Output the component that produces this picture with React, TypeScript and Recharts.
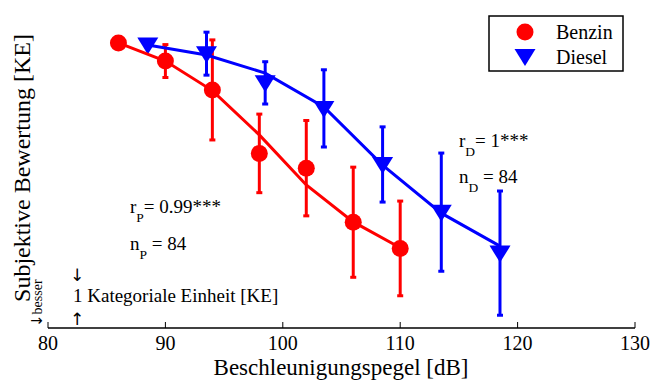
import React from 'react';
import { ComposedChart, Scatter, XAxis, YAxis, ErrorBar } from 'recharts';

const benzinX = [86, 90, 94, 98, 102, 106, 110];
const benzinMean = [7.99, 7.45, 6.59, 4.7, 4.26, 2.65, 1.87];
const benzinErr = [0, 0.49, 1.49, 1.17, 1.42, 1.64, 1.41];
const benzinLine = [7.99, 7.45, 6.57, 5.25, 3.76, 2.66, 1.89];

const dieselX = [88.5, 93.5, 98.5, 103.5, 108.5, 113.5, 118.5];
const dieselMean = [7.93, 7.67, 6.8, 6.04, 4.37, 2.95, 1.73];
const dieselErr = [0, 0.64, 0.63, 1.15, 1.12, 1.76, 1.85];
const dieselLine = [7.93, 7.63, 7.09, 6.08, 4.35, 2.92, 1.94];

const xTicks = [80, 90, 100, 110, 120, 130];
const yTicks = [0, 1, 2, 3, 4, 5, 6, 7, 8];

const RED = '#ff0000';
const BLUE = '#0000ff';
const FONT = "'Liberation Serif', Tinos, 'Times New Roman', Times, 'DejaVu Serif', serif";
const ARROW_FONT = "'DejaVu Sans', sans-serif";

const benzinPts = benzinX.map((x, i) => ({ x, y: benzinMean[i], err: benzinErr[i] }));
const benzinLn = benzinX.map((x, i) => ({ x, y: benzinLine[i] }));
const dieselPts = dieselX.map((x, i) => ({ x, y: dieselMean[i], err: dieselErr[i] }));
const dieselLn = dieselX.map((x, i) => ({ x, y: dieselLine[i] }));

const Circle = (p: any) => <circle cx={p.cx} cy={p.cy} r={8.5} fill={RED} />;
const Tri = (p: any) => {
  const { cx, cy } = p;
  const w = 10.5;
  return <polygon points={`${cx - w},${cy - 7.5} ${cx + w},${cy - 7.5} ${cx},${cy + 9.5}`} fill={BLUE} />;
};
const Empty = () => <g />;

const axisLine = { stroke: '#000', strokeWidth: 1.5 };
const tickLine = { stroke: '#000', strokeWidth: 1 };
const txt = { fontFamily: FONT, fill: '#000' } as React.CSSProperties;
const arr = { fontFamily: ARROW_FONT, fill: '#000' } as React.CSSProperties;

export default function App() {
  return (
    <div style={{ position: 'absolute', left: 0, top: 0, width: 653, height: 382, background: '#fff', fontFamily: FONT }}>
      <ComposedChart width={653} height={382} margin={{ top: 9, left: 48, right: 18, bottom: 24 }} style={{ fontFamily: FONT }}>
        <XAxis xAxisId="b" type="number" dataKey="x" domain={[80, 130]} ticks={xTicks} allowDataOverflow
          orientation="bottom" height={30} tickSize={-6} tickMargin={14} axisLine={axisLine} tickLine={tickLine}
          tick={{ fontSize: 20, fill: '#000', style: txt }} />
        <XAxis xAxisId="t" type="number" dataKey="x" domain={[80, 130]} ticks={xTicks} allowDataOverflow
          orientation="top" height={0} tickSize={-6} tick={false} axisLine={axisLine} tickLine={tickLine} />
        <YAxis yAxisId="l" type="number" dataKey="y" domain={[-0.5, 9]} ticks={yTicks} allowDataOverflow
          orientation="left" width={0} tickSize={-6} tick={false} axisLine={axisLine} tickLine={tickLine} />
        <YAxis yAxisId="r" type="number" dataKey="y" domain={[-0.5, 9]} ticks={yTicks} allowDataOverflow
          orientation="right" width={0} tickSize={-6} tick={false} axisLine={axisLine} tickLine={tickLine} />

        <Scatter xAxisId="b" yAxisId="l" data={dieselLn} shape={Empty} line={{ stroke: BLUE, strokeWidth: 3 }} isAnimationActive={false} />
        <Scatter xAxisId="b" yAxisId="l" data={dieselPts} shape={Tri} isAnimationActive={false}>
          <ErrorBar dataKey="err" direction="y" width={3} stroke={BLUE} strokeWidth={3} isAnimationActive={false} />
        </Scatter>
        <Scatter xAxisId="b" yAxisId="l" data={benzinLn} shape={Empty} line={{ stroke: RED, strokeWidth: 3 }} isAnimationActive={false} />
        <Scatter xAxisId="b" yAxisId="l" data={benzinPts} shape={Circle} isAnimationActive={false}>
          <ErrorBar dataKey="err" direction="y" width={3} stroke={RED} strokeWidth={3} isAnimationActive={false} />
        </Scatter>
      </ComposedChart>
      <svg width={653} height={382} style={{ position: 'absolute', left: 0, top: 0, pointerEvents: 'none', fontFamily: FONT }}>
        <text x={341} y={375} fontSize={23} textAnchor="middle" style={txt}>Beschleunigungspegel [dB]</text>
        <text transform="translate(30,168) rotate(-90)" fontSize={24} textAnchor="middle" style={txt}>Subjektive Bewertung [KE]</text>
        <text transform="translate(42,327) rotate(-90)" fontSize={14} style={txt}><tspan style={arr} fontSize={15}>↓</tspan>besser</text>

        <text x={130} y={213} fontSize={19} style={txt}>r<tspan dy={9} fontSize={13.5}>P</tspan><tspan dy={-9}>= 0.99***</tspan></text>
        <text x={130} y={250} fontSize={19} style={txt}>n<tspan dy={9} fontSize={13.5}>P</tspan><tspan dy={-9}> = 84</tspan></text>
        <text x={459} y={147} fontSize={19} style={txt}>r<tspan dy={9} fontSize={13.5}>D</tspan><tspan dy={-9}>= 1***</tspan></text>
        <text x={459} y={183} fontSize={19} style={txt}>n<tspan dy={9} fontSize={13.5}>D</tspan><tspan dy={-9}> = 84</tspan></text>

        <text x={77} y={281} fontSize={17} textAnchor="middle" style={arr}>↓</text>
        <text x={73} y={302} fontSize={19} style={txt}>1 Kategoriale Einheit [KE]</text>
        <text x={77} y={325} fontSize={17} textAnchor="middle" style={arr}>↑</text>

        <rect x={489} y={16} width={134} height={55} fill="#fff" stroke="#000" strokeWidth={1.5} />
        <circle cx={525} cy={32} r={8.5} fill={RED} />
        <polygon points="514.5,49 535.5,49 525,66" fill={BLUE} />
        <text x={556} y={39} fontSize={20} style={txt}>Benzin</text>
        <text x={556} y={64} fontSize={20} style={txt}>Diesel</text>
      </svg>
    </div>
  );
}
